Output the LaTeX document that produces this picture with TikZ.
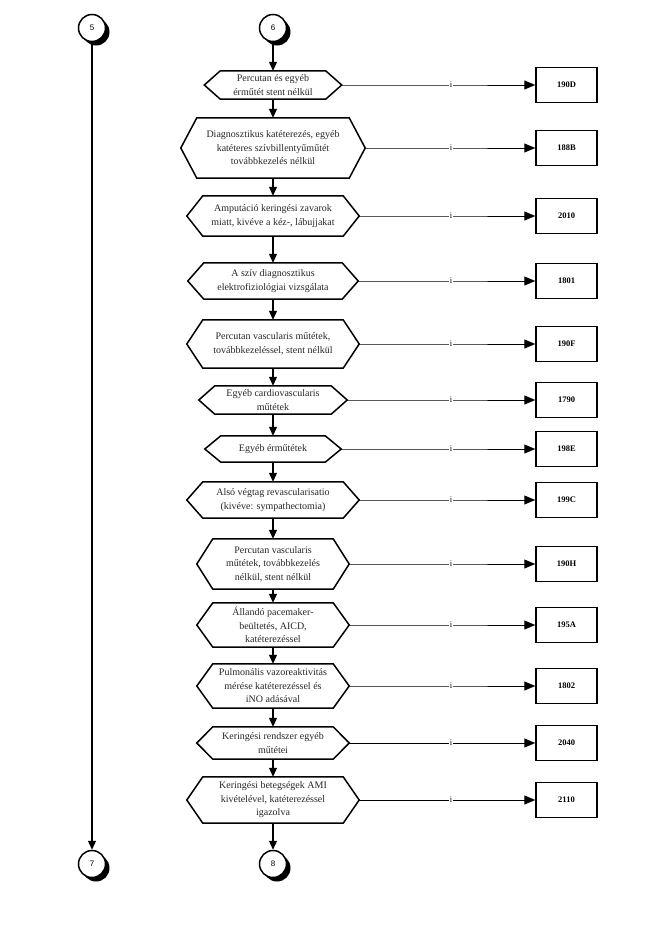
\documentclass[tikz,border=0pt]{standalone}
\usepackage{fontspec}
\setmainfont{Liberation Serif}
\newfontfamily\connfont{Liberation Sans}
\usetikzlibrary{arrows.meta,positioning,shadows}

% hexagon outline round a named (undrawn) node
\newcommand\hexframe[1]{%
  \draw[hexline] (#1.west) -- ([xshift=16pt]#1.north west) -- ([xshift=-16pt]#1.north east)
    -- (#1.east) -- ([xshift=-16pt]#1.south east) -- ([xshift=16pt]#1.south west) -- cycle;}

\begin{document}
\begin{tikzpicture}[x=1pt,y=-1pt,
    hexline/.style={line width=1.5pt,line join=miter},
    hexa/.style={inner sep=0pt,align=center,text=black!85,font=\fontsize{10}{13.5}\selectfont},
    code/.style={draw,line width=1.5pt,minimum width=61pt,minimum height=35pt,inner sep=0pt,font=\fontsize{8.5}{9}\selectfont\bfseries},
    conn/.style={circle,draw,line width=1.5pt,fill=white,minimum size=27pt,inner sep=0pt,font=\connfont\fontsize{8}{9}\selectfont,
      drop shadow={shadow xshift=4pt,shadow yshift=-4pt,fill=black,opacity=1}},
    arrow/.style={-{Triangle[length=9pt,width=8pt]},line width=1.2pt},
    link/.style={-{Triangle[length=11pt,width=9pt]},line width=1pt},
    ilabel/.style={fill=white,inner sep=1pt,font=\fontsize{8.5}{9}\selectfont}
  ]
  \useasboundingbox (0,0) rectangle (650,932);
  \coordinate (ix) at (451,0);

  % off-page connectors
  \node[conn] (k5) at (92,28) {5};
  \node[conn] (k6) at (273,28) {6};
  \node[conn] (k7) at (92,864) {7};
  \node[conn] (k8) at (273,864) {8};

  % procedures
  \node[hexa,minimum width=137pt,minimum height=28pt] (h1) at (273,85) {Percutan és egyéb\\érműtét stent nélkül};
  \node[hexa,minimum width=184pt,minimum height=60pt] (h2) at (273,148) {Diagnosztikus katéterezés, egyéb\\katéteres szívbillentyűműtét\\továbbkezelés nélkül};
  \node[hexa,minimum width=172pt,minimum height=40pt] (h3) at (273,216) {Amputáció keringési zavarok\\miatt, kivéve a kéz-, lábujjakat};
  \node[hexa,minimum width=170pt,minimum height=36pt] (h4) at (273,281) {A szív diagnosztikus\\elektrofiziológiai vizsgálata};
  \node[hexa,minimum width=172pt,minimum height=48pt] (h5) at (273,344) {Percutan vascularis műtétek,\\továbbkezeléssel, stent nélkül};
  \node[hexa,minimum width=148pt,minimum height=28pt] (h6) at (273,400) {Egyéb cardiovascularis\\műtétek};
  \node[hexa,minimum width=136pt,minimum height=26pt] (h7) at (273,449) {Egyéb érműtétek};
  \node[hexa,minimum width=172pt,minimum height=36pt] (h8) at (273,500) {Alsó végtag revascularisatio\\(kivéve: sympathectomia)};
  \node[hexa,minimum width=152pt,minimum height=50pt] (h9) at (273,564) {Percutan vascularis\\műtétek, továbbkezelés\\nélkül, stent nélkül};
  \node[hexa,minimum width=152pt,minimum height=44pt] (h10) at (273,625) {Állandó pacemaker-\\beültetés, AICD,\\katéterezéssel};
  \node[hexa,minimum width=152pt,minimum height=44pt] (h11) at (273,686) {Pulmonális vazoreaktivitás\\mérése katéterezéssel és\\iNO adásával};
  \node[hexa,minimum width=152pt,minimum height=32pt] (h12) at (273,743) {Keringési rendszer egyéb\\műtétei};
  \node[hexa,minimum width=172pt,minimum height=46pt] (h13) at (273,800) {Keringési betegségek AMI\\kivételével, katéterezéssel\\igazolva};
  \foreach \n in {1,...,13} {\hexframe{h\n}}

  % codes
  \node[code] (c1) at (566.5,85) {190D};
  \node[code] (c2) at (566.5,148) {188B};
  \node[code] (c3) at (566.5,216) {2010};
  \node[code] (c4) at (566.5,281) {1801};
  \node[code] (c5) at (566.5,344) {190F};
  \node[code] (c6) at (566.5,400) {1790};
  \node[code] (c7) at (566.5,449) {198E};
  \node[code] (c8) at (566.5,500) {199C};
  \node[code] (c9) at (566.5,564) {190H};
  \node[code] (c10) at (566.5,625) {195A};
  \node[code] (c11) at (566.5,686) {1802};
  \node[code] (c12) at (566.5,743) {2040};
  \node[code] (c13) at (566.5,800) {2110};

  % flow
  \draw[arrow] (k5) -- (k7);
  \draw[arrow] (k6) -- (h1.north);
  \foreach \a/\b in {1/2,2/3,3/4,4/5,5/6,6/7,7/8,8/9,9/10,10/11,11/12,12/13}
    \draw[arrow] (h\a.south) -- (h\b.north);
  \draw[arrow] (h13.south) -- (k8);
  \foreach \n in {1,...,13}
    \draw[link] (h\n.east) -- (h\n.east -| ix) node[ilabel] {i} -- (c\n.west);
\end{tikzpicture}
\end{document}
